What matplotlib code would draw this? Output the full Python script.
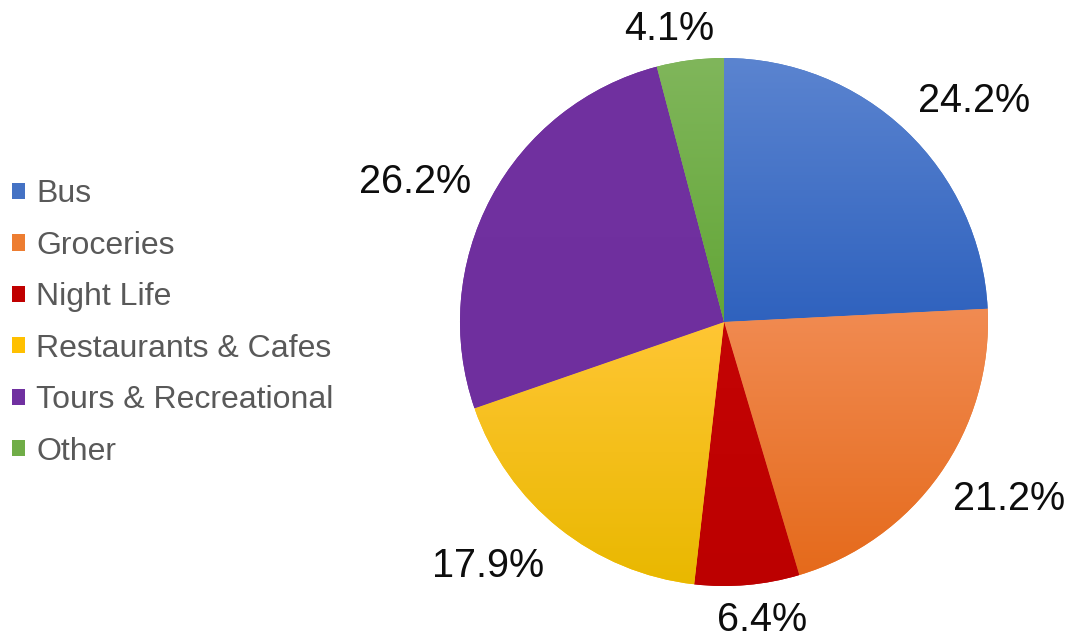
import numpy as np
import matplotlib
matplotlib.use("Agg")
import matplotlib.pyplot as plt
from matplotlib.colors import LinearSegmentedColormap
from matplotlib.patches import Patch

categories = ["Bus", "Groceries", "Night Life", "Restaurants & Cafes", "Tours & Recreational", "Other"]
values = [24.2, 21.2, 6.4, 17.9, 26.2, 4.1]
top_colors = ["#5B84D0", "#F18B52", "#C40404", "#FFC634", "#7131A0", "#80B65B"]
bot_colors = ["#2F62BE", "#E56A1B", "#BC0000", "#E9B800", "#6F2F9E", "#63A637"]
base_colors = ["#4472C4", "#ED7D31", "#C00000", "#FFC000", "#7030A0", "#70AD47"]
label_dist = [1.265, 1.27, 1.137, 1.284, 1.284, 1.13]
label_shift = [-5.0, 3.5, 2.3, -5.3, 3.7, 3.2]

plt.rcParams['font.family'] = ['Liberation Sans', 'DejaVu Sans']

W, H = 1071, 639
fig = plt.figure(figsize=(W / 100, H / 100), dpi=100)
cx, cy, R = 724, 322, 264
ax = fig.add_axes([(cx - R) / W, (H - cy - R) / H, 2 * R / W, 2 * R / H])
ax.axis('off')

wedges, _ = ax.pie(values, colors=base_colors, startangle=90, counterclock=False,
                   radius=1, wedgeprops=dict(linewidth=0))

grad = np.linspace(0, 1, 256).reshape(-1, 1)
for w, tc, bc in zip(wedges, top_colors, bot_colors):
    cmap = LinearSegmentedColormap.from_list("g", [tc, bc])
    verts = w.get_path().vertices
    x0, x1 = verts[:, 0].min(), verts[:, 0].max()
    y0, y1 = verts[:, 1].min(), verts[:, 1].max()
    im = ax.imshow(grad, cmap=cmap, extent=(x0, x1, y0, y1), origin='upper',
                   aspect='auto', zorder=w.get_zorder() + 0.1)
    im.set_clip_path(w)
ax.set_xlim(-1, 1)
ax.set_ylim(-1, 1)

for w, v, d, s in zip(wedges, values, label_dist, label_shift):
    mid = np.deg2rad((w.theta1 + w.theta2) / 2 + s)
    ax.text(d * np.cos(mid), d * np.sin(mid), f"{v:.1f}%", ha='center', va='center',
            fontsize=28.5, color='#0D0D0D', clip_on=False)

handles = [Patch(facecolor=c, edgecolor='none') for c in base_colors]
fig.legend(handles, categories, loc='center left', bbox_to_anchor=(-0.0006, 1 - 323 / H),
           frameon=False, fontsize=23, labelcolor='#595959', handlelength=0.4,
           handleheight=0.4, handletextpad=0.35, labelspacing=0.67, borderaxespad=0)

fig.savefig("out.png", dpi=100)
